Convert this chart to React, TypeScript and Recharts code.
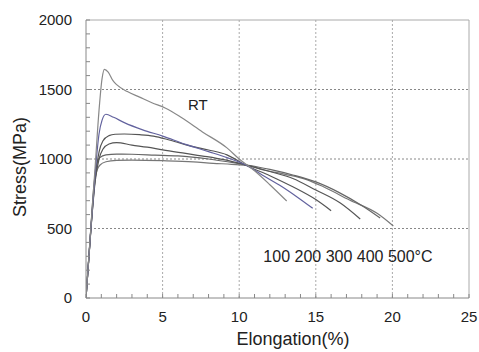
import React from "react";
import {
  LineChart,
  Line,
  XAxis,
  YAxis,
  ReferenceLine,
  ReferenceDot,
  Label,
} from "recharts";

// elongation (%) vs stress (MPa)
const rtCurve = [
  { x: 0, y: 0 }, { x: 0.3, y: 480 }, { x: 0.6, y: 950 }, { x: 0.85, y: 1350 },
  { x: 1.05, y: 1580 }, { x: 1.2, y: 1645 }, { x: 1.45, y: 1625 }, { x: 1.75, y: 1565 },
  { x: 2, y: 1535 }, { x: 2.7, y: 1485 }, { x: 3.5, y: 1445 }, { x: 4.3, y: 1405 },
  { x: 5.2, y: 1365 }, { x: 6.2, y: 1300 }, { x: 7.6, y: 1195 }, { x: 9.2, y: 1080 },
  { x: 10, y: 1000 }, { x: 11, y: 915 }, { x: 12, y: 815 }, { x: 13.1, y: 698 },
];
const curve100 = [
  { x: 0, y: 0 }, { x: 0.3, y: 470 }, { x: 0.6, y: 900 }, { x: 0.85, y: 1180 },
  { x: 1.05, y: 1280 }, { x: 1.3, y: 1322 }, { x: 1.8, y: 1300 }, { x: 2.5, y: 1262 },
  { x: 3.7, y: 1210 }, { x: 5, y: 1165 }, { x: 6.5, y: 1105 }, { x: 8, y: 1053 },
  { x: 9.2, y: 1010 }, { x: 10.4, y: 958 }, { x: 11.5, y: 885 }, { x: 12.8, y: 800 },
  { x: 13.8, y: 725 }, { x: 14.8, y: 645 },
];
const curve200 = [
  { x: 0, y: 0 }, { x: 0.3, y: 465 }, { x: 0.6, y: 860 }, { x: 0.85, y: 1050 },
  { x: 1.1, y: 1130 }, { x: 1.5, y: 1168 }, { x: 1.9, y: 1178 }, { x: 2.5, y: 1180 },
  { x: 3.5, y: 1175 }, { x: 4.4, y: 1165 }, { x: 5.5, y: 1135 }, { x: 7, y: 1089 },
  { x: 8, y: 1065 }, { x: 9.2, y: 1030 }, { x: 10.4, y: 957 }, { x: 12, y: 880 },
  { x: 13.5, y: 800 }, { x: 15, y: 708 }, { x: 16, y: 628 },
];
const curve300 = [
  { x: 0, y: 0 }, { x: 0.3, y: 465 }, { x: 0.6, y: 840 }, { x: 0.85, y: 1000 },
  { x: 1.1, y: 1070 }, { x: 1.5, y: 1108 }, { x: 2, y: 1118 }, { x: 3, y: 1100 },
  { x: 4, y: 1085 }, { x: 5, y: 1065 }, { x: 6.5, y: 1040 }, { x: 7.9, y: 1017 },
  { x: 9, y: 995 }, { x: 10.4, y: 958 }, { x: 12, y: 910 }, { x: 13.5, y: 860 },
  { x: 15, y: 777 }, { x: 16.6, y: 683 }, { x: 17.9, y: 568 },
];
const curve400 = [
  { x: 0, y: 0 }, { x: 0.3, y: 475 }, { x: 0.5, y: 790 }, { x: 0.7, y: 960 },
  { x: 0.9, y: 1010 }, { x: 1.3, y: 1030 }, { x: 2, y: 1035 }, { x: 3, y: 1034 },
  { x: 4.5, y: 1028 }, { x: 6, y: 1022 }, { x: 8, y: 1000 }, { x: 9.8, y: 970 },
  { x: 10.6, y: 955 }, { x: 12, y: 925 }, { x: 13.5, y: 885 }, { x: 15, y: 835 },
  { x: 16.5, y: 760 }, { x: 18, y: 665 }, { x: 19.2, y: 575 },
];
const curve500 = [
  { x: 0, y: 0 }, { x: 0.3, y: 470 }, { x: 0.5, y: 760 }, { x: 0.65, y: 890 },
  { x: 0.9, y: 955 }, { x: 1.3, y: 980 }, { x: 2, y: 990 }, { x: 3, y: 992 },
  { x: 5, y: 988 }, { x: 7, y: 980 }, { x: 8.3, y: 969 }, { x: 9.5, y: 962 },
  { x: 10.6, y: 952 }, { x: 11.6, y: 921 }, { x: 13, y: 890 }, { x: 14.4, y: 852 },
  { x: 15.5, y: 800 }, { x: 17.2, y: 705 }, { x: 19, y: 609 }, { x: 20.06, y: 518 },
];

const xTicks = [
  0, 1, 2, 3, 4, 5, 6, 7, 8, 9, 10, 11, 12, 13, 14, 15, 16, 17, 18, 19, 20, 21,
  22, 23, 24, 25,
];
const yTicks = [
  0, 100, 200, 300, 400, 500, 600, 700, 800, 900, 1000, 1100, 1200, 1300, 1400,
  1500, 1600, 1700, 1800, 1900, 2000,
];
const xGrid = [5, 10, 15, 20];
const yGrid = [500, 1000, 1500];

const FONT = "'Liberation Sans', Arial, sans-serif";

const XTick = (props: any) => {
  const { x, y, payload } = props;
  const v = payload.value;
  return (
    <g>
      <line x1={x} x2={x} y1={y} y2={y - 4} stroke="#888" />
      {v % 5 === 0 && (
        <text x={x} y={y + 24} textAnchor="middle" fontSize={15} fill="#222" fontFamily={FONT}>
          {v}
        </text>
      )}
    </g>
  );
};

const YTick = (props: any) => {
  const { x, y, payload } = props;
  const v = payload.value;
  return (
    <g>
      <line x1={x} x2={x + 4} y1={y} y2={y} stroke="#888" />
      {v % 500 === 0 && (
        <text x={x - 14} y={y + 5} textAnchor="end" fontSize={15} fill="#222" fontFamily={FONT}>
          {v}
        </text>
      )}
    </g>
  );
};

export default function App() {
  return (
    <div style={{ position: "absolute", left: 0, top: 0, width: 479, height: 352 }}>
      <LineChart
        width={479}
        height={352}
        margin={{ top: 20, right: 10, bottom: 0, left: 0 }}
      >
        <XAxis
          type="number"
          dataKey="x"
          domain={[0, 25]}
          ticks={xTicks}
          interval={0}
          tick={<XTick />}
          tickLine={false}
          tickSize={0}
          tickMargin={0}
          height={54}
          stroke="#888"
          allowDataOverflow
        >
          <Label
            content={() => (
              <text x={293} y={345} textAnchor="middle" fontSize={18} fill="#222" fontFamily={FONT}>
                Elongation(%)
              </text>
            )}
          />
        </XAxis>
        <YAxis
          type="number"
          domain={[0, 2000]}
          ticks={yTicks}
          interval={0}
          tick={<YTick />}
          tickLine={false}
          tickSize={0}
          tickMargin={0}
          width={86}
          stroke="#888"
          allowDataOverflow
        >
          <Label
            content={() => (
              <text
                x={20}
                y={167}
                transform="rotate(-90 20 167)"
                textAnchor="middle"
                dominantBaseline="central"
                fontSize={18}
                fill="#222"
                fontFamily={FONT}
              >
                Stress(MPa)
              </text>
            )}
          />
        </YAxis>

        {xGrid.map((v) => (
          <ReferenceLine key={"vx" + v} x={v} stroke="#aaa" strokeDasharray="2 2" />
        ))}
        {yGrid.map((v) => (
          <ReferenceLine key={"hy" + v} y={v} stroke="#888" strokeDasharray="2 2" />
        ))}
        <ReferenceLine y={2000} stroke="#aaa" />
        <ReferenceLine x={25} stroke="#aaa" />

        <Line data={curve500} dataKey="y" type="monotone" stroke="#777" strokeWidth={1.2} dot={false} isAnimationActive={false} />
        <Line data={curve400} dataKey="y" type="monotone" stroke="#666" strokeWidth={1.2} dot={false} isAnimationActive={false} />
        <Line data={curve300} dataKey="y" type="monotone" stroke="#555" strokeWidth={1.2} dot={false} isAnimationActive={false} />
        <Line data={curve200} dataKey="y" type="monotone" stroke="#555" strokeWidth={1.2} dot={false} isAnimationActive={false} />
        <Line data={curve100} dataKey="y" type="monotone" stroke="#62629e" strokeWidth={1.2} dot={false} isAnimationActive={false} />
        <Line data={rtCurve} dataKey="y" type="monotone" stroke="#888" strokeWidth={1.2} dot={false} isAnimationActive={false} />

        <ReferenceDot
          x={7.3}
          y={1388}
          r={0}
          fill="none"
          stroke="none"
          label={{ value: "RT", position: "center", fontSize: 15, fill: "#222", fontFamily: FONT }}
        />
        <ReferenceDot
          x={17.1}
          y={298}
          r={0}
          fill="none"
          stroke="none"
          label={{ value: "100 200 300 400 500°C", position: "center", fontSize: 16, fill: "#222", fontFamily: FONT }}
        />
      </LineChart>
    </div>
  );
}
